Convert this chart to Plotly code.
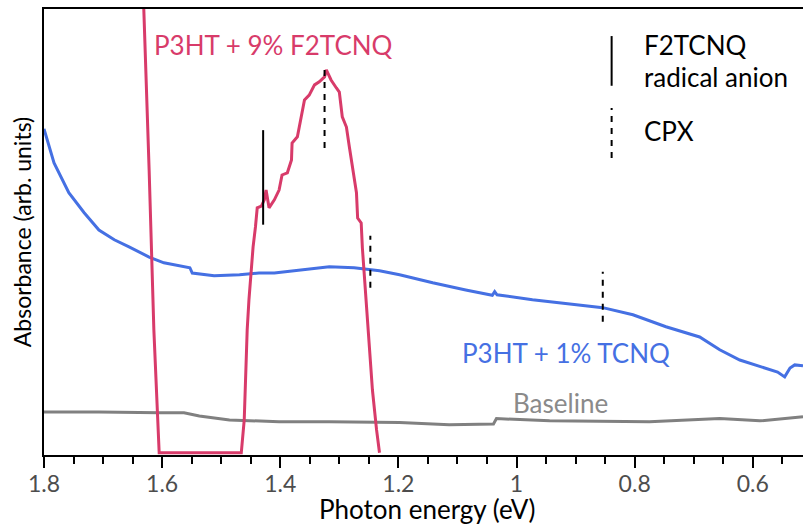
import plotly.graph_objects as go

# ---- data (photon energy in eV, absorbance in arb. units) ----
blue_E = [1.800, 1.783, 1.758, 1.732, 1.707, 1.681, 1.656, 1.622, 1.597, 1.563, 1.553, 1.549,
          1.512, 1.469, 1.436, 1.410, 1.368, 1.317, 1.275, 1.232, 1.198, 1.142, 1.086, 1.046,
          1.041, 1.037, 1.033, 0.973, 0.897, 0.854, 0.803, 0.747, 0.690, 0.656, 0.622, 0.588,
          0.558, 0.546, 0.537, 0.529, 0.515]
blue_A = [0.730, 0.653, 0.586, 0.541, 0.502, 0.480, 0.464, 0.441, 0.428, 0.419, 0.417, 0.405,
          0.399, 0.401, 0.405, 0.405, 0.412, 0.419, 0.417, 0.410, 0.401, 0.383, 0.367, 0.356,
          0.355, 0.363, 0.356, 0.345, 0.333, 0.327, 0.311, 0.284, 0.261, 0.232, 0.209, 0.194,
          0.182, 0.171, 0.191, 0.198, 0.196]

base_E = [1.800, 1.707, 1.605, 1.563, 1.537, 1.486, 1.402, 1.317, 1.198, 1.114, 1.039, 1.034,
          0.944, 0.775, 0.656, 0.588, 0.515]
base_A = [0.092, 0.092, 0.090, 0.090, 0.083, 0.074, 0.070, 0.070, 0.068, 0.063, 0.065, 0.077,
          0.072, 0.070, 0.077, 0.072, 0.081]

pink_E = [1.632, 1.631, 1.622, 1.614, 1.605, 1.466, 1.461, 1.456, 1.453, 1.446, 1.442, 1.439,
          1.432, 1.427, 1.424, 1.419, 1.410, 1.402, 1.397, 1.388, 1.381, 1.380, 1.371, 1.364,
          1.359, 1.351, 1.342, 1.334, 1.325, 1.322, 1.314, 1.305, 1.300, 1.295, 1.288, 1.283,
          1.278, 1.271, 1.269, 1.263, 1.261, 1.253, 1.244, 1.237, 1.232]
pink_A = [1.032, 0.998, 0.637, 0.277, 0.000, 0.000, 0.074, 0.277, 0.345, 0.464, 0.509, 0.552,
          0.556, 0.570, 0.592, 0.552, 0.570, 0.592, 0.626, 0.631, 0.660, 0.698, 0.712, 0.757,
          0.795, 0.806, 0.829, 0.836, 0.847, 0.863, 0.840, 0.822, 0.813, 0.757, 0.734, 0.689,
          0.644, 0.586, 0.529, 0.518, 0.462, 0.300, 0.142, 0.052, 0.000]

# marker positions: radical anion (solid) and CPX (dashed)
anion_E = [1.429]
anion_lo = [0.514]
anion_hi = [0.727]
cpx_E = [1.325, 1.2475, 0.854]
cpx_lo = [0.687, 0.372, 0.295]
cpx_hi = [0.867, 0.489, 0.408]

# key marks
key_E = 0.839
key_solid = [0.827, 0.939]
key_dash = [0.664, 0.777]

tick_vals = [1.8, 1.6, 1.4, 1.2, 1.0, 0.8, 0.6]
tick_text = ["1.8", "1.6", "1.4", "1.2", "1", "0.8", "0.6"]

PINK = "#d83b6a"
BLUE = "#4570e3"
GRAY = "#808080"
FONT = "Lato"


def seg(xs, lo, hi):
    X, Y = [], []
    for x, a, b in zip(xs, lo, hi):
        X += [x, x, None]
        Y += [a, b, None]
    return X, Y


fig = go.Figure()
fig.add_trace(go.Scatter(x=base_E, y=base_A, mode="lines", line=dict(color=GRAY, width=3)))
fig.add_trace(go.Scatter(x=blue_E, y=blue_A, mode="lines", line=dict(color=BLUE, width=3)))
fig.add_trace(go.Scatter(x=pink_E, y=pink_A, mode="lines", line=dict(color=PINK, width=3)))

ax, ay = seg(anion_E, anion_lo, anion_hi)
fig.add_trace(go.Scatter(x=ax, y=ay, mode="lines", line=dict(color="black", width=2)))
cx, cy = seg(cpx_E, cpx_lo, cpx_hi)
fig.add_trace(go.Scatter(x=cx, y=cy, mode="lines", line=dict(color="black", width=2, dash="6px,6px")))
fig.add_trace(go.Scatter(x=[key_E, key_E], y=key_solid, mode="lines", line=dict(color="black", width=2)))
fig.add_trace(go.Scatter(x=[key_E, key_E], y=key_dash, mode="lines",
                         line=dict(color="black", width=2, dash="6px,6px")))

ann = [
    ("P3HT + 9% F2TCNQ", 1.617, 0.919, PINK),
    ("P3HT + 1% TCNQ", 1.095, 0.225, BLUE),
    ("Baseline", 1.010, 0.113, "#8a8a8a"),
    ("F2TCNQ", 0.788, 0.919, "black"),
    ("radical anion", 0.788, 0.847, "black"),
    ("CPX", 0.788, 0.725, "black"),
]
for t, x, y, c in ann:
    fig.add_annotation(x=x, y=y, text=t, xref="x", yref="y", xanchor="left", yanchor="middle",
                       showarrow=False, font=dict(family=FONT, size=26, color=c))

# x-axis title (placed as paper annotation so it can sit at the very bottom edge)
fig.add_annotation(x=0.505, y=-0.122, xref="paper", yref="paper", text="Photon energy (eV)",
                   xanchor="center", yanchor="middle", showarrow=False,
                   font=dict(family=FONT, size=26, color="black"))

fig.update_layout(
    width=803, height=525,
    margin=dict(l=44, r=0, t=9, b=70),
    paper_bgcolor="white", plot_bgcolor="white",
    showlegend=False,
    font=dict(family=FONT, size=23, color="black"),
)
fig.update_xaxes(
    range=[1.8, 0.515], showgrid=False, zeroline=False,
    showline=True, linecolor="black", linewidth=2, mirror=True,
    ticks="outside", ticklen=11, tickwidth=2, tickcolor="black",
    tickvals=tick_vals, ticktext=tick_text, ticklabelstandoff=-4,
    tickfont=dict(family=FONT, size=23, color="#4d4d4d"),
    minor=dict(ticks="outside", ticklen=7, tickwidth=2, tickcolor="black", dtick=0.05, showgrid=False),
)
fig.update_yaxes(
    range=[-0.005, 1.0], showgrid=False, zeroline=False,
    showline=True, linecolor="black", linewidth=2, mirror=False,
    ticks="", showticklabels=False,
    title=dict(text="Absorbance (arb. units)", font=dict(family=FONT, size=23, color="black"), standoff=4),
)

fig.write_html("out.html")
